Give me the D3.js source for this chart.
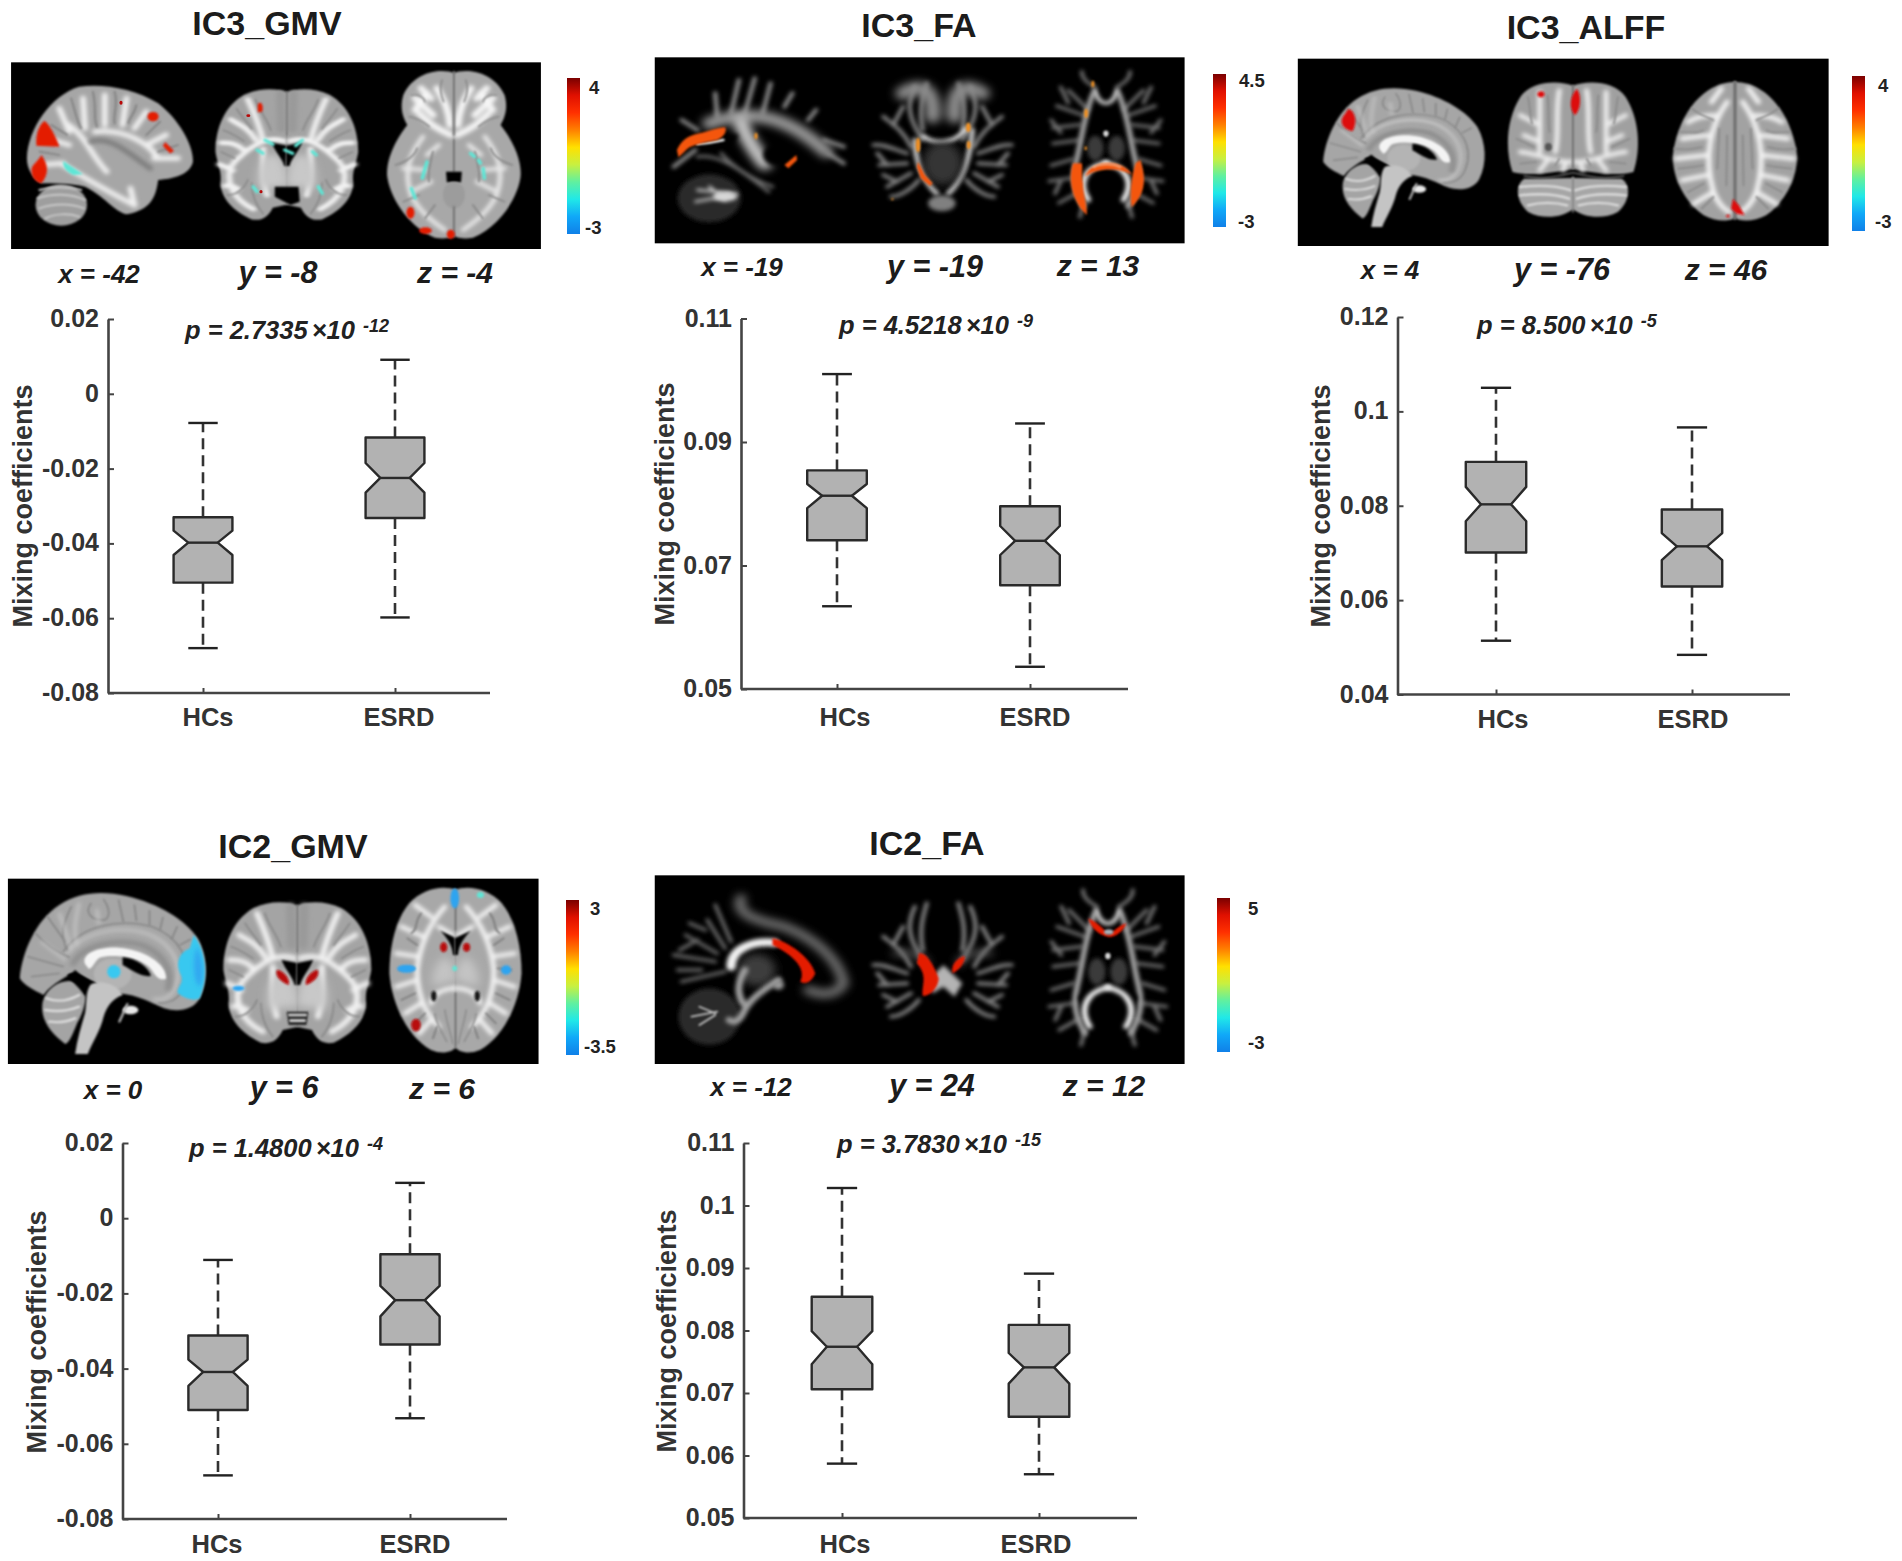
<!DOCTYPE html>
<html>
<head>
<meta charset="utf-8">
<script src="https://cdn.jsdelivr.net/npm/d3@7/dist/d3.min.js"></script>
<style>
body { margin: 0; background: #fff; }
svg { display: block; font-family: "Liberation Sans", Arial, sans-serif; }
</style>
</head>
<body>
<svg id="fig" width="1902" height="1561"></svg>
<script>
// box values: low cap, q1, notch low, median, notch high, q3, high cap
const groups = ["HCs", "ESRD"];

const ic3GmvHCs = [-0.068, -0.0505, -0.0431, -0.0398, -0.0366, -0.033, -0.0078];
const ic3GmvESRD = [-0.0598, -0.0332, -0.0264, -0.0225, -0.0185, -0.0117, 0.0091];
const ic3GmvTicks = [-0.08, -0.06, -0.04, -0.02, 0, 0.02];
const ic3GmvLabels = ["-0.08", "-0.06", "-0.04", "-0.02", "0", "0.02"];

const ic3FaHCs = [0.0634, 0.0741, 0.0793, 0.0813, 0.0832, 0.0854, 0.101];
const ic3FaESRD = [0.0536, 0.0668, 0.0717, 0.074, 0.0764, 0.0796, 0.093];
const ic3FaTicks = [0.05, 0.07, 0.09, 0.11];
const ic3FaLabels = ["0.05", "0.07", "0.09", "0.11"];

const ic3AlffHCs = [0.0514, 0.0701, 0.0767, 0.0803, 0.084, 0.0893, 0.105];
const ic3AlffESRD = [0.0484, 0.0629, 0.0685, 0.0714, 0.0742, 0.0792, 0.0966];
const ic3AlffTicks = [0.04, 0.06, 0.08, 0.1, 0.12];
const ic3AlffLabels = ["0.04", "0.06", "0.08", "0.1", "0.12"];

const ic2GmvHCs = [-0.0684, -0.051, -0.0446, -0.0409, -0.0376, -0.0312, -0.0111];
const ic2GmvESRD = [-0.0532, -0.0336, -0.0261, -0.0218, -0.018, -0.0096, 0.0094];
const ic2GmvTicks = [-0.08, -0.06, -0.04, -0.02, 0, 0.02];
const ic2GmvLabels = ["-0.08", "-0.06", "-0.04", "-0.02", "0", "0.02"];

const ic2FaHCs = [0.0587, 0.0706, 0.0746, 0.0774, 0.0799, 0.0854, 0.1028];
const ic2FaESRD = [0.057, 0.0662, 0.0715, 0.0741, 0.0764, 0.0809, 0.0891];
const ic2FaTicks = [0.05, 0.06, 0.07, 0.08, 0.09, 0.1, 0.11];
const ic2FaLabels = ["0.05", "0.06", "0.07", "0.08", "0.09", "0.1", "0.11"];

const colourbarStops = ["#7a0000", "#e01000", "#ff3000", "#ff8000", "#ffe000", "#c8f040", "#60f0a0", "#20e8e8", "#10a8f8", "#1080e8"];

const svg = d3.select("#fig");
const defs = svg.append("defs");
// blur levels, in strip units (a strip unit is about 0.4 px across and 0.33 px down)
[[1, 3], [2, 6], [3, 12], [4, 26]].forEach(function(b) {
    defs.append("filter").attr("id", "b" + b[0]).attr("filterUnits", "userSpaceOnUse")
        .attr("x", -100).attr("y", -100).attr("width", 1800).attr("height", 800)
        .append("feGaussianBlur").attr("stdDeviation", b[1]);
});
const cbGrad = defs.append("linearGradient").attr("id", "jet").attr("x1", 0).attr("x2", 0).attr("y1", 0).attr("y2", 1);
colourbarStops.forEach(function(c, i) {
    cbGrad.append("stop").attr("offset", i / (colourbarStops.length - 1)).attr("stop-color", c);
});

const RED = "#e41a06", DARKRED = "#b80808", CYAN = "#5ee6d6", SKY = "#38c8f0", ORANGE = "#f4560e", AMBER = "#f09020";

function el(cx, cy, rx, ry) {
    return "M" + (cx - rx) + " " + cy + "a" + rx + " " + ry + " 0 1 0 " + (2 * rx) + " 0a" + rx + " " + ry + " 0 1 0 " + (-2 * rx) + " 0Z";
}
function fillp(g, items, colour, blur) {
    const l = g.append("g").attr("fill", colour);
    if (blur) l.attr("filter", "url(#b" + blur + ")");
    l.selectAll("path").data(items).join("path").attr("d", d => d);
}
function ink(g, items, colour, width, blur) {
    const l = g.append("g").attr("fill", "none").attr("stroke", colour).attr("stroke-width", width)
        .attr("stroke-linecap", "round").attr("stroke-linejoin", "round");
    if (blur) l.attr("filter", "url(#b" + blur + ")");
    l.selectAll("path").data(items).join("path").attr("d", d => d);
}
// a slice drawn in its own source frame is mapped to the frame it sits at in a strip
function place(strip, src, dst) {
    const sx = (dst[2] - dst[0]) / (src[2] - src[0]), sy = (dst[3] - dst[1]) / (src[3] - src[1]);
    return strip.append("g").attr("transform", "translate(" + dst[0] + "," + dst[1] + ") scale(" + sx + "," + sy + ") translate(" + (-src[0]) + "," + (-src[1]) + ")");
}
function bothSides(g, cx, draw) {
    draw(g);
    draw(g.append("g").attr("transform", "translate(" + (2 * cx) + ",0) scale(-1,1)"));
}

// ---- T1 slices ----
function medialSag(g) {
    fillp(g, ["M108 395C120 345 170 315 205 345C225 370 215 420 195 460C185 490 175 520 165 522C130 490 100 450 108 395Z"], "#a4a4a4", 1);
    ink(g, ["M118 385C140 395 170 395 200 375", "M115 420C140 425 170 425 200 410", "M125 455C145 458 170 455 190 445"], "#dcdcdc", 7, 1);
    fillp(g, ["M50 325C55 250 90 150 150 105C200 65 260 62 320 78C400 100 470 150 500 205C525 260 528 330 505 385C490 420 450 428 415 415C385 400 350 375 300 370C270 350 225 340 190 300C175 320 135 335 110 375C85 360 60 345 50 325Z"], "#a6a6a6", 1);
    ink(g, ["M170 250C210 185 300 165 370 190C430 215 465 280 445 345C435 380 415 392 390 388"], "#c4c4c4", 9, 2);
    ink(g, ["M160 245C205 165 300 145 385 170C450 200 490 270 465 350C455 385 430 400 400 400"], "#838383", 4, 1);
    ink(g, ["M230 100C215 125 225 150 265 150C285 135 270 100 262 88", "M300 90L312 155", "M340 105L345 152", "M378 122L378 165", "M412 142L405 178", "M448 170L435 205", "M482 208L455 225",
        "M180 110C160 160 150 190 170 240", "M120 140L165 215", "M90 190C110 215 130 240 175 262", "M70 260L160 290", "M80 320L150 310"], "#828282", 4, 1);
    ink(g, ["M200 100C190 150 185 190 195 225", "M150 130C165 180 170 200 180 235", "M245 120L250 160", "M105 215C125 235 145 250 165 270"], "#cfcfcf", 6, 2);
    ink(g, ["M185 280C215 220 300 205 360 225C410 250 440 300 425 355"], "#8f8f8f", 16, 2);
    fillp(g, ["M170 315C190 300 215 325 245 340L215 378C200 350 180 335 170 315Z"], "#060606", 1);
    fillp(g, [el(285, 312, 48, 46)], "#b4b4b4", 1);
    fillp(g, ["M215 282C205 250 250 230 300 233C362 238 422 280 420 326C405 332 395 322 385 302C365 267 300 250 255 262C240 268 238 292 225 297Z"], "#f4f4f4", 1);
    fillp(g, ["M310 262C345 265 375 290 382 318C355 322 335 300 310 285Z"], "#050505", 1);
    fillp(g, ["M228 345C250 325 300 345 310 375C285 385 270 410 262 440C255 480 230 525 222 552L190 552C195 510 205 470 215 430C220 400 215 370 228 345Z"], "#c4c4c4", 1);
    fillp(g, [el(330, 420, 20, 13)], "#e8e8e8", 1);
    ink(g, ["M302 455L322 402"], "#b8b8b8", 6, 1);
}
function coronalT1(g) {
    const cx = 752;
    bothSides(g, cx, function(h) {
        fillp(h, ["M754 108C725 92 680 92 640 115C590 150 565 220 565 300C570 340 582 360 578 400C580 450 610 490 660 518C690 525 705 505 715 480L754 470Z"], "#a4a4a4", 1);
        ink(h, ["M745 265C700 245 660 280 625 320C600 345 595 380 608 420C620 450 640 470 665 485", "M690 265C680 210 665 170 650 130", "M670 260C650 220 625 210 605 195", "M640 295C620 270 600 270 580 270", "M610 360C595 350 585 345 575 340",
            "M625 420C610 410 600 405 590 410", "M690 290C690 350 690 400 700 440"], "#f2f2f2", 15, 2);
        ink(h, ["M670 130C680 170 700 190 710 230", "M620 160C635 190 650 205 660 225", "M585 230C610 240 625 255 640 265", "M580 300L615 320", "M595 440C620 440 640 420 650 390", "M660 400C660 440 670 470 690 500"], "#8a8a8a", 5, 1);
        ink(h, ["M735 112L738 225"], "#9a9a9a", 24, 2);
        fillp(h, ["M700 310C735 295 754 340 754 410L680 420C670 375 680 330 700 310Z"], "#c8c8c8", 3);
        fillp(h, ["M754 280L712 270C722 300 740 320 745 345L754 345Z"], "#060606", 1);
    });
    ink(g, ["M752 105L752 245"], "#6c6c6c", 3, 1);
}
function axialT1(g) {
    const cx = 1152;
    bothSides(g, cx, function(h) {
        fillp(h, ["M1154 60C1120 45 1070 55 1035 100C1000 150 985 230 985 310C990 400 1030 500 1090 540C1120 555 1145 545 1154 530Z"], "#a8a8a8", 1);
        ink(h, ["M1125 110C1080 170 1060 240 1055 300C1055 370 1075 430 1110 470", "M1090 140L1050 105", "M1070 200L1015 170", "M1058 260L1003 250", "M1055 330L1003 350", "M1065 400L1025 430", "M1090 450L1060 490", "M1110 170L1145 195"], "#f2f2f2", 13, 2);
        ink(h, ["M1065 130C1045 160 1060 175 1040 190", "M1030 205L1055 225", "M1010 300L1045 295", "M1015 390L1050 370", "M1050 460L1075 430", "M1095 505L1105 470"], "#7f7f7f", 5, 1);
        fillp(h, ["M1125 260C1145 270 1152 300 1154 330L1095 350C1090 320 1100 275 1125 260Z"], "#c4c4c4", 3);
        ink(h, ["M1090 400C1095 372 1120 355 1152 355"], "#f0f0f0", 13, 2);
        fillp(h, [el(1097, 378, 7, 16)], "#151515", 1);
        ink(h, ["M1125 420C1130 460 1140 490 1145 520", "M1100 430C1105 470 1120 490 1130 515"], "#8a8a8a", 4, 1);
        fillp(h, ["M1154 205L1113 182C1128 200 1144 222 1146 255L1154 255Z"], "#060606", 1);
    });
    ink(g, ["M1152 60L1152 180", "M1152 370L1152 530"], "#6e6e6e", 4, 1);
}
function axialLow(g) {
    const cx = 1148;
    bothSides(g, cx, function(h) {
        fillp(h, ["M1150 55C1120 40 1050 45 1020 120C1010 160 1020 190 1030 210C990 270 975 330 980 370C990 440 1040 520 1100 548C1130 555 1145 545 1150 540Z"], "#a8a8a8", 1);
        ink(h, ["M1080 115L1050 165", "M1105 100C1125 140 1135 165 1138 210", "M1050 130L1095 180", "M1090 130L1065 100", "M1060 175C1090 210 1110 225 1140 240"], "#f6f6f6", 18, 2);
        ink(h, ["M1118 75C1110 100 1115 120 1122 140", "M1040 120C1055 115 1070 125 1075 140", "M1035 185C1055 190 1070 200 1085 215"], "#8c8c8c", 5, 1);
        ink(h, ["M1070 245C1035 300 1020 350 1040 420C1060 470 1095 500 1125 525", "M1020 340L1075 345", "M1040 410L1090 380", "M1080 300L1110 270"], "#e8e8e8", 12, 2);
        ink(h, ["M1095 290C1090 320 1080 350 1085 380", "M1000 330C1030 320 1050 300 1055 280", "M1020 440L1060 420", "M1075 490L1100 450"], "#888888", 5, 1);
    });
    ink(g, ["M1148 50L1148 240", "M1148 255L1148 350"], "#787878", 5, 1);
    fillp(g, ["M1128 350L1168 350L1166 382L1130 382Z"], "#060606", 1);
    fillp(g, [el(1148, 420, 28, 40)], "#9c9c9c", 1);
    ink(g, ["M1148 455L1148 545"], "#777", 5, 1);
}
function axialTop(g) {
    const cx = 1140;
    bothSides(g, cx, function(h) {
        fillp(h, ["M1142 90C1080 88 1010 150 985 280C970 350 1000 440 1060 490C1090 510 1130 510 1142 495Z"], "#a2a2a2", 1);
        ink(h, ["M1120 150C1075 220 1060 320 1085 420C1095 450 1110 470 1125 480", "M1090 190C1060 190 1040 195 1020 210", "M1072 250L1005 260", "M1065 310L990 320", "M1068 370L1005 385", "M1085 420L1035 455", "M1105 110L1080 150"], "#f2f2f2", 14, 2);
        ink(h, ["M1030 170C1050 190 1070 195 1085 205", "M1000 240C1030 240 1040 245 1060 235", "M985 290C1020 295 1035 290 1055 285", "M995 350C1030 345 1045 345 1058 340", "M1020 420L1060 395", "M1055 470L1085 435", "M1100 230L1095 350", "M1120 250L1118 400"], "#8a8a8a", 5, 1);
    });
    ink(g, ["M1140 90L1140 500"], "#707070", 8, 1);
}
function coronalPost(g) {
    const cx = 725;
    bothSides(g, cx, function(h) {
        fillp(h, ["M727 378L600 380C575 400 580 450 610 480C650 505 700 495 727 470Z"], "#a6a6a6", 1);
        ink(h, ["M590 405C630 400 680 400 720 415", "M590 430C630 425 680 425 715 440", "M610 460C640 450 680 450 710 460"], "#dcdcdc", 7, 1);
        fillp(h, ["M727 102C690 85 620 85 590 135C555 200 550 290 570 360C620 375 680 360 727 350Z"], "#a0a0a0", 1);
        ink(h, ["M720 330C670 330 620 300 590 300", "M640 300C640 230 640 180 640 120", "M680 300C690 240 680 180 690 115", "M600 250L640 270", "M590 190L640 220", "M660 325L640 355", "M705 335L700 355"], "#eeeeee", 13, 2);
        ink(h, ["M610 135C615 170 615 190 620 215", "M660 130C665 180 660 210 665 240", "M580 260L625 285", "M590 335L630 330", "M680 340L690 320"], "#8b8b8b", 5, 1);
    });
    ink(g, ["M725 100L725 350", "M600 372C650 385 690 372 725 362C760 372 800 385 855 372"], "#6f6f6f", 4, 1);
    ink(g, ["M725 375L725 480"], "#8a8a8a", 4, 1);
    fillp(g, [el(662, 285, 9, 12)], "#555", 1);
}
function lateralSag(g) {
    fillp(g, [el(155, 450, 65, 62)], "#9e9e9e", 1);
    ink(g, ["M95 430C130 415 180 415 215 435", "M100 460C135 445 180 445 212 460", "M115 490C140 475 175 475 200 485", "M100 405C130 395 170 395 205 405"], "#c8c8c8", 6, 1);
    fillp(g, ["M68 310C70 220 130 120 200 95C260 85 340 100 400 145C450 190 490 270 488 320C480 360 440 370 400 375C395 420 385 465 320 478C290 470 260 420 215 395C180 385 130 385 105 385C85 370 68 345 68 310Z"], "#a6a6a6", 1);
    ink(g, ["M160 330C230 380 290 420 340 450", "M175 210C220 250 230 300 270 350", "M240 230C320 220 380 270 400 310", "M210 130L215 220", "M150 160L175 230", "M265 120L265 210", "M320 130L310 210", "M370 170L340 220", "M420 240L370 270", "M450 310L390 310", "M120 250L175 270", "M100 330L160 325", "M330 400L340 450"], "#f0f0f0", 15, 2);
    ink(g, ["M235 110C245 160 235 190 245 215", "M290 110C300 150 285 180 290 205", "M180 130C190 170 195 200 205 220", "M345 150C340 180 325 190 325 205", "M405 200L370 240", "M450 270L400 290", "M130 210L170 240", "M100 290L150 300"], "#828282", 5, 1);
    ink(g, ["M230 260C280 240 330 300 380 340"], "#7c7c7c", 14, 2);
}

// ---- FA slices ----
function faSagA(g) {
    ink(g, ["M190 235L145 150", "M205 215L165 105", "M170 250L90 195", "M165 275L60 255", "M190 305L80 335", "M120 210L75 240", "M140 180L100 160", "M130 300L70 300"], "#6a6a6a", 10, 2);
    ink(g, ["M230 85C215 130 260 150 340 170C430 210 480 280 490 340C470 380 430 375 400 360"], "#747474", 26, 3);
    fillp(g, [el(150, 440, 78, 85)], "#2a2a2a", 2);
    ink(g, ["M105 440L170 425", "M125 410L165 430", "M125 465L165 435"], "#bdbdbd", 5, 1);
    fillp(g, [el(270, 300, 48, 48)], "#3c3c3c", 3);
    ink(g, ["M325 330C285 360 250 390 235 430C225 455 210 460 200 450", "M240 300C220 340 220 370 235 400"], "#a0a0a0", 18, 2);
    fillp(g, [el(325, 345, 14, 14)], "#999", 2);
    ink(g, ["M315 218C260 212 205 235 205 290"], "#f2f2f2", 24, 2);
    fillp(g, ["M310 205C350 215 405 260 418 310C410 335 395 345 380 335C395 300 370 260 310 225Z"], RED, 1);
}
function faSagB(g) {
    ink(g, ["M170 200L165 130", "M205 190L225 90", "M240 190L265 85", "M285 190L305 100", "M340 170L360 130", "M400 210L420 180", "M440 270L490 290", "M450 310L490 340", "M120 240L80 210", "M115 300L60 350"], "#888", 12, 2);
    ink(g, ["M150 220C250 175 345 195 445 305"], "#9a9a9a", 36, 3);
    ink(g, ["M230 215C240 260 270 310 290 340"], "#c4c4c4", 40, 3);
    fillp(g, [el(320, 315, 34, 32), "M170 260C190 250 215 250 225 255L200 300L175 290Z"], "#020202", 2);
    ink(g, ["M120 320C180 310 240 370 300 425", "M180 310C210 350 260 390 310 410"], "#707070", 9, 2);
    ink(g, ["M120 282C150 280 165 275 185 270"], "#f0f0f0", 8, 1);
    fillp(g, [el(150, 445, 80, 72)], "#2c2c2c", 2);
    ink(g, ["M115 455L220 432", "M120 420L205 430", "M150 410L190 450"], "#d8d8d8", 7, 2);
    fillp(g, [el(190, 440, 30, 14)], "#d8d8d8", 2);
}
function faCoronalFibers(g) {
    bothSides(g, 740, function(h) {
        ink(h, ["M690 270C650 200 650 160 670 110", "M690 240C680 180 690 140 700 100", "M660 290C640 240 610 220 590 200", "M650 310C620 300 590 280 565 285", "M650 340L580 345", "M660 370L600 410", "M680 390C660 420 630 440 610 440", "M615 225L640 170", "M600 345L575 310", "M625 395L590 375"], "#838383", 11, 2);
    });
}
function faAxialFibers(g) {
    const cx = 1158;
    bothSides(g, cx, function(h) {
        ink(h, ["M1130 110C1100 90 1095 75 1095 60", "M1110 180L1060 120", "M1100 200L1030 170", "M1090 230L1020 240", "M1085 280L1020 290", "M1070 340L1015 360", "M1070 400L1010 410", "M1080 450L1035 480", "M1100 480L1090 525", "M1060 160L1040 110", "M1040 255L1015 215", "M1040 410L1025 450"], "#767676", 10, 2);
        ink(h, ["M1125 130C1100 200 1095 280 1080 350C1070 400 1075 440 1100 490"], "#a8a8a8", 14, 2);
        fillp(h, [el(1130, 305, 22, 40)], "#3a3a3a", 2);
        fillp(h, [el(1118, 385, 35, 18)], "#020202", 2);
        ink(h, ["M1112 470C1085 420 1100 365 1160 352"], "#f2f2f2", 15, 2);
    });
    ink(g, ["M1128 118C1140 175 1176 175 1188 118"], "#cccccc", 12, 2);
    fillp(g, [el(cx, 258, 7, 10)], "#d8d8d8", 1);
}

// ---- brain strips, in the coordinates of each strip's own frame ----
const strips = [
    {ox: 0, oy: 55, k: 620, rect: [28, 22, 1368, 582], draw: function(s) {
        lateralSag(s);
        coronalT1(place(s, [565, 92, 938, 520], [545, 98, 905, 495]));
        fillp(s, ["M695 395L755 395L758 440L735 450L695 425Z"], "#050505", 1);
        axialLow(s);
        fillp(s, ["M112 198C125 205 145 255 150 275L92 272C90 245 95 215 112 198Z", "M105 300C122 330 125 355 105 385C85 380 78 360 80 340C85 325 98 315 105 300Z", el(387, 185, 14, 14), "M418 262L440 288L430 295L412 272Z", "M652 148C660 135 667 150 663 170L652 172Z", el(1038, 473, 10, 18), el(1076, 527, 16, 10), el(1140, 538, 10, 14)], RED, 1);
        fillp(s, [el(306, 143, 4, 6), el(628, 182, 5, 4), el(660, 410, 4, 5)], DARKRED);
        fillp(s, ["M160 318C175 330 195 345 210 358L185 360C170 350 158 340 160 318Z"], CYAN, 1);
        ink(s, ["M670 255L690 268", "M765 255L748 272", "M720 285L740 295", "M650 285L665 295", "M790 290L800 300", "M640 395L650 410", "M805 395L815 415", "M1080 320L1068 370", "M1222 340L1225 370", "M1040 400L1050 430", "M1190 295L1200 305", "M1210 315L1215 325"], CYAN, 9, 1);
    }},
    {ox: 650, oy: 50, k: 620, rect: [12, 22, 1352, 580], draw: function(s) {
        faSagB(s);
        faCoronalFibers(s);
        ink(s, ["M640 130C680 100 720 110 715 200", "M840 130C800 100 765 110 770 200"], "#8c8c8c", 40, 3);
        ink(s, ["M690 258C720 285 770 285 800 235"], "#ececec", 12, 2);
        ink(s, ["M670 270C670 330 690 390 725 430", "M815 240C810 320 790 390 755 430"], "#c4c4c4", 14, 2);
        fillp(s, [el(740, 340, 50, 65)], "#363636", 3);
        fillp(s, [el(738, 460, 35, 24)], "#808080", 2);
        faAxialFibers(place(s, [995, 55, 1325, 545], [995, 60, 1315, 520]));
        fillp(s, ["M68 300C80 270 95 258 125 250C150 245 170 232 190 232C196 245 185 262 170 270C150 275 125 278 100 292C90 300 80 315 72 322Z",
            "M340 345L370 315L372 330L350 355Z", "M678 335L695 375L715 400L708 408L685 385L675 350Z",
            "M1070 340C1055 390 1070 460 1105 495C1105 460 1095 430 1095 400C1090 375 1095 355 1092 340Z", "M1240 330C1260 400 1245 440 1218 472C1212 430 1218 380 1228 340Z", "M1100 380C1115 328 1195 325 1220 375C1190 352 1130 352 1100 380Z"], ORANGE, 1);
        ink(s, ["M1122 352C1140 340 1170 340 1190 352"], "#f4c8a8", 4, 1);
        fillp(s, [el(268, 258, 4, 10), el(678, 285, 6, 22), el(805, 232, 6, 14), el(806, 285, 5, 12), el(613, 448, 3, 3), el(1120, 102, 4, 10), el(1103, 190, 5, 14), el(1102, 295, 3, 6)], AMBER, 1);
    }},
    {ox: 1290, oy: 52, k: 612, rect: [20, 20, 1380, 582], draw: function(s) {
        medialSag(place(s, [50, 65, 522, 552], [85, 105, 500, 525]));
        coronalPost(s);
        axialTop(s);
        fillp(s, ["M150 170C170 180 172 215 160 238C145 235 125 220 135 195Z", el(643, 127, 9, 9), "M735 110C748 130 745 175 730 190C715 170 715 135 735 110Z", "M1135 440L1150 460L1165 490L1145 485L1130 470Z", el(1122, 492, 5, 4)], "#dd1010", 1);
    }},
    {ox: 0, oy: 870, k: 620, rect: [20, 26, 1362, 582], draw: function(s) {
        medialSag(s);
        coronalT1(s);
        fillp(s, ["M725 425L780 425L775 465L730 465Z"], "#222", 1);
        ink(s, ["M732 435L773 435", "M735 452L770 452"], "#e0e0e0", 8, 1);
        axialT1(s);
        fillp(s, ["M490 195C520 240 528 320 505 385C490 395 465 385 450 370C445 350 470 340 455 310C445 280 450 250 480 235Z", el(288, 305, 17, 20)], SKY, 1);
        fillp(s, ["M498 230C515 270 518 320 505 350C490 340 485 270 498 230Z"], "#30a8f0", 2);
        fillp(s, ["M700 300C715 300 735 325 730 345C710 335 695 320 700 300Z", "M804 300C789 300 769 325 774 345C794 335 809 320 804 300Z", el(1122, 232, 9, 15), el(1180, 232, 9, 13), el(1052, 465, 12, 19)], DARKRED, 1);
        fillp(s, [el(603, 355, 15, 8), el(1150, 85, 11, 30), el(1028, 296, 24, 12), el(1280, 300, 13, 14)], "#2ea4f0", 1);
        fillp(s, [el(1215, 75, 9, 9), el(1150, 295, 6, 8)], CYAN, 1);
    }},
    {ox: 650, oy: 870, k: 620, rect: [12, 16, 1352, 582], draw: function(s) {
        faSagA(s);
        faCoronalFibers(s);
        ink(s, ["M620 250C660 240 690 260 700 280", "M860 250C820 240 790 260 780 280"], "#707070", 14, 3);
        fillp(s, ["M742 285L790 340L770 380L742 350L715 370L700 335Z"], "#b4b4b4", 2);
        faAxialFibers(s);
        fillp(s, ["M680 250C700 245 720 290 730 325C730 350 710 380 690 378C685 350 705 320 675 280Z", "M795 258C800 270 785 300 765 310C760 285 775 265 795 258Z", "M1108 145C1130 155 1150 180 1160 195C1175 180 1190 165 1205 160C1195 190 1170 205 1158 200C1135 195 1115 175 1108 145Z"], RED, 1);
        fillp(s, [el(1160, 186, 12, 8)], "#a8b0b8", 1);
    }}
];

strips.forEach(function(st) {
    // strip frame: 1568 wide, 3 per pixel in height
    const s = svg.append("g").attr("transform", "translate(" + st.ox + "," + st.oy + ") scale(" + (st.k / 1568) + "," + (1 / 3) + ")");
    s.append("rect").attr("x", st.rect[0]).attr("y", st.rect[1])
        .attr("width", st.rect[2] - st.rect[0]).attr("height", st.rect[3] - st.rect[1]).attr("fill", "#000");
    const clipId = "clip" + st.ox + "_" + st.oy;
    defs.append("clipPath").attr("id", clipId).append("rect").attr("x", st.rect[0]).attr("y", st.rect[1])
        .attr("width", st.rect[2] - st.rect[0]).attr("height", st.rect[3] - st.rect[1]);
    st.draw(s.append("g").attr("clip-path", "url(#" + clipId + ")"));
});

// ---- charts ----
const sliceFontSizes = [26, 30.5, 30];

const panels = [
    {title: "IC3_GMV", tx: 267, ty: 35, hc: ic3GmvHCs, esrd: ic3GmvESRD, ticks: ic3GmvTicks, labels: ic3GmvLabels,
        left: 108, right: 490, top: 319, bottom: 693, cx: [203, 395], lx: [208, 399], ly: 726,
        p: ["p = 2.7335", "×10", "-12"], px: 185, py: 339, yx: 32, yy: 506,
        slices: [["x = -42", 99, 283], ["y = -8", 278, 283], ["z = -4", 455, 283]],
        cb: [567, 78, 580, 234], cbTop: ["4", 589, 88], cbBot: ["-3", 585, 228]},
    {title: "IC3_FA", tx: 919, ty: 37, hc: ic3FaHCs, esrd: ic3FaESRD, ticks: ic3FaTicks, labels: ic3FaLabels,
        left: 741, right: 1128, top: 318.5, bottom: 689, cx: [837, 1030], lx: [845, 1035], ly: 726,
        p: ["p = 4.5218", "×10", "-9"], px: 839, py: 334, yx: 674, yy: 504,
        slices: [["x = -19", 742, 276], ["y = -19", 935, 277], ["z = 13", 1098, 276]],
        cb: [1213, 74, 1226, 227], cbTop: ["4.5", 1239, 81], cbBot: ["-3", 1238, 222]},
    {title: "IC3_ALFF", tx: 1586, ty: 39, hc: ic3AlffHCs, esrd: ic3AlffESRD, ticks: ic3AlffTicks, labels: ic3AlffLabels,
        left: 1397.5, right: 1790, top: 317, bottom: 694.5, cx: [1496, 1692], lx: [1503, 1693], ly: 728,
        p: ["p = 8.500", "×10", "-5"], px: 1477, py: 334, yx: 1330, yy: 506,
        slices: [["x = 4", 1390, 279], ["y = -76", 1562, 280], ["z = 46", 1726, 280]],
        cb: [1852, 76, 1865, 231], cbTop: ["4", 1878, 86], cbBot: ["-3", 1875, 222]},
    {title: "IC2_GMV", tx: 293, ty: 858, hc: ic2GmvHCs, esrd: ic2GmvESRD, ticks: ic2GmvTicks, labels: ic2GmvLabels,
        left: 122.5, right: 507, top: 1143, bottom: 1519, cx: [218, 410], lx: [217, 415], ly: 1553,
        p: ["p = 1.4800", "×10", "-4"], px: 189, py: 1157, yx: 46, yy: 1332,
        slices: [["x = 0", 113, 1099], ["y = 6", 284, 1098], ["z = 6", 442, 1099]],
        cb: [566, 900, 579, 1055], cbTop: ["3", 590, 909], cbBot: ["-3.5", 584, 1047]},
    {title: "IC2_FA", tx: 927, ty: 855, hc: ic2FaHCs, esrd: ic2FaESRD, ticks: ic2FaTicks, labels: ic2FaLabels,
        left: 743.5, right: 1137, top: 1143, bottom: 1518, cx: [842, 1039], lx: [845, 1036], ly: 1553,
        p: ["p = 3.7830", "×10", "-15"], px: 837, py: 1153, yx: 676, yy: 1331,
        slices: [["x = -12", 751, 1096], ["y = 24", 932, 1096], ["z = 12", 1104, 1096]],
        cb: [1217, 898, 1230, 1052], cbTop: ["5", 1248, 909], cbBot: ["-3", 1248, 1043]}
];

const INK = "#333";

function notchPath(v, x, y, hw) {
    const nw = hw / 2;
    const [, q1, nl, med, nh, q3] = v;
    return d3.line()([
        [x - hw, y(q3)], [x + hw, y(q3)], [x + hw, y(nh)], [x + nw, y(med)], [x + hw, y(nl)], [x + hw, y(q1)],
        [x - hw, y(q1)], [x - hw, y(nl)], [x - nw, y(med)], [x - hw, y(nh)]
    ]) + "Z";
}

panels.forEach(function(p) {
    const g = svg.append("g");

    g.append("text").attr("x", p.tx).attr("y", p.ty).attr("text-anchor", "middle")
        .attr("font-size", 34).attr("font-weight", "bold").attr("fill", "#1c1c1c").text(p.title);

    g.selectAll(".slice").data(p.slices).join("text").attr("class", "slice")
        .attr("x", d => d[1]).attr("y", d => d[2]).attr("text-anchor", "middle")
        .attr("font-size", (d, i) => sliceFontSizes[i]).attr("font-weight", "bold").attr("font-style", "italic").attr("fill", "#1c1c1c")
        .text(d => d[0]);

    // colour bar
    g.append("rect").attr("x", p.cb[0]).attr("y", p.cb[1]).attr("width", p.cb[2] - p.cb[0]).attr("height", p.cb[3] - p.cb[1])
        .attr("fill", "url(#jet)");
    [p.cbTop, p.cbBot].forEach(function(l) {
        g.append("text").attr("x", l[1]).attr("y", l[2] + 6).attr("font-size", 18.5).attr("font-weight", "bold")
            .attr("fill", "#222").text(l[0]);
    });

    const y = d3.scaleLinear().domain([p.ticks[0], p.ticks[p.ticks.length - 1]]).range([p.bottom, p.top]);
    const x = d3.scalePoint().domain(groups).range(p.cx);

    const ax = g.append("g").attr("transform", "translate(" + p.left + ",0)")
        .call(d3.axisLeft(y).tickValues(p.ticks).tickSizeInner(-6).tickSizeOuter(0).tickPadding(9)
            .tickFormat((d, i) => p.labels[i]));
    ax.selectAll("text").attr("font-size", 25).attr("font-weight", "bold").attr("fill", INK).attr("font-family", "inherit").attr("dy", "0.3em");
    const bx = g.append("g").attr("transform", "translate(0," + p.bottom + ")");
    bx.call(d3.axisBottom(x).tickSizeInner(-5).tickSizeOuter(0).tickFormat(""));
    bx.select(".domain").attr("d", "M" + p.left + " 0H" + p.right);
    g.selectAll(".domain").attr("stroke", "#444").attr("stroke-width", 2.6);
    g.selectAll(".tick line").attr("stroke", "#444").attr("stroke-width", 2);

    g.selectAll(".catlab").data(groups).join("text").attr("class", "catlab")
        .attr("x", (d, i) => p.lx[i]).attr("y", p.ly).attr("text-anchor", "middle")
        .attr("font-size", 25.5).attr("font-weight", "bold").attr("fill", INK).text(d => d);

    g.append("text").attr("transform", "translate(" + p.yx + "," + p.yy + ") rotate(-90)").attr("text-anchor", "middle")
        .attr("font-size", 27).attr("font-weight", "bold").attr("fill", INK).text("Mixing coefficients");

    // p value with its raised exponent
    const pt = g.append("text").attr("x", p.px).attr("y", p.py).attr("font-size", 25.5).attr("font-weight", "bold")
        .attr("font-style", "italic").attr("fill", "#222");
    pt.append("tspan").text(p.p[0]);
    pt.append("tspan").attr("dx", 4).text(p.p[1]);
    pt.append("tspan").attr("dx", 8).attr("dy", -7).attr("font-size", 18).text(p.p[2]);

    // boxes
    const hw = (p.right - p.left) * 0.077, cap = hw / 2;
    [p.hc, p.esrd].forEach(function(v, i) {
        const cx = x(groups[i]);
        const b = g.append("g");
        b.selectAll(".whisk").data([[v[5], v[6]], [v[1], v[0]]]).join("line").attr("class", "whisk")
            .attr("x1", cx).attr("x2", cx).attr("y1", d => y(d[0])).attr("y2", d => y(d[1]))
            .attr("stroke", INK).attr("stroke-width", 2.6).attr("stroke-dasharray", "11 6");
        b.selectAll(".cap").data([v[0], v[6]]).join("line").attr("class", "cap")
            .attr("x1", cx - cap).attr("x2", cx + cap).attr("y1", d => y(d)).attr("y2", d => y(d))
            .attr("stroke", "#222").attr("stroke-width", 2.4);
        b.append("path").attr("d", notchPath(v, cx, y, hw)).attr("fill", "#b2b2b2").attr("stroke", "#2a2a2a")
            .attr("stroke-width", 2.4).attr("stroke-linejoin", "round");
        b.append("line").attr("x1", cx - hw / 2).attr("x2", cx + hw / 2).attr("y1", y(v[3])).attr("y2", y(v[3]))
            .attr("stroke", "#2a2a2a").attr("stroke-width", 2.4);
    });
});
</script>
</body>
</html>
